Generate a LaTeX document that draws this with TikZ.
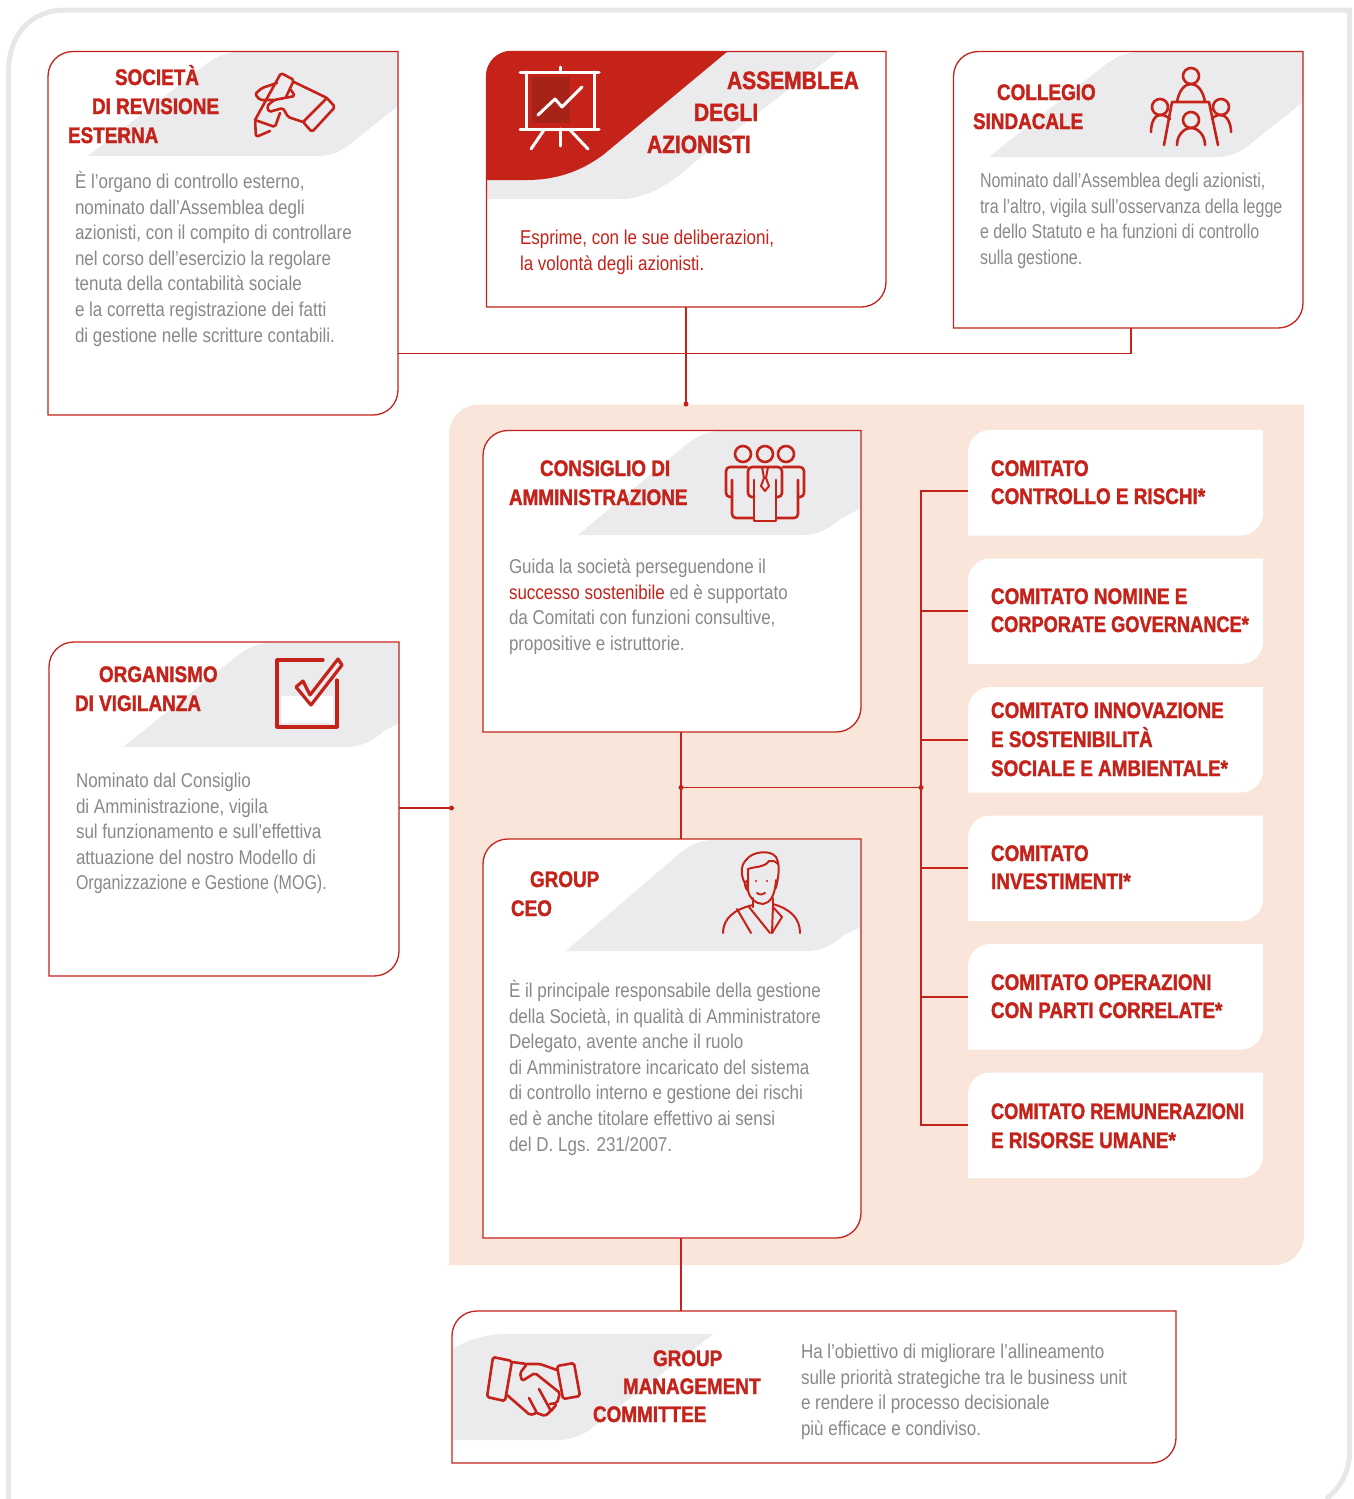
\documentclass[tikz,border=0pt]{standalone}
\usepackage{fontspec}
\setmainfont{Liberation Sans}
\newfontfamily\bodyf{Liberation Sans}[FakeStretch=0.85]
\newfontfamily\bodyn{Liberation Sans}[FakeStretch=0.8]
\newfontfamily\headf{Liberation Sans Bold}[FakeStretch=0.84,FakeBold=1.5]
\newfontfamily\headn{Liberation Sans Bold}[FakeStretch=0.81,FakeBold=1.5]
\usetikzlibrary{fit}
\definecolor{rd}{HTML}{C5221A}
\definecolor{gsw}{HTML}{EBEBED}
\definecolor{peach}{HTML}{F9E5DA}
\definecolor{frm}{HTML}{E6E7E9}
\definecolor{gtx}{HTML}{87898B}
\definecolor{drd}{HTML}{A82317}
\tikzset{
  box/.style={inner sep=0pt,outer sep=0pt},
  ttl/.style={anchor=base west,inner sep=0pt,outer sep=0pt,yshift=1pt,text=rd,font=\headf\fontsize{22.5}{29}\selectfont},
  ttln/.style={ttl,font=\headn\fontsize{22.5}{29}\selectfont},
  ttlb/.style={ttl,font=\headf\fontsize{25}{32}\selectfont},
  bodytxt/.style={anchor=north west,inner sep=0pt,outer sep=0pt,yshift=0.5pt,align=left,text=gtx,font=\bodyf\fontsize{20}{25.6}\selectfont},
  conn/.style={draw=rd,line width=1.2pt},
  dotn/.style={circle,fill=rd,inner sep=0pt,outer sep=0pt,minimum size=5pt},
  ico/.style={draw=rd,line width=2.6pt,line cap=round,line join=round},
  icow/.style={draw=white,line width=3pt,line cap=round,line join=round}
}
% name, x0, y0, x1, y1 : white card with rounded top-left and bottom-right corners
\newcommand\cardfill[5]{%
  \node[box,fit={(#2,#3)(#4,#5)}] (#1) {};
  \fill[white] (#2,#5) -- ({#2},{#3+25}) .. controls ({#2},{#3+11}) and ({#2+11},{#3}) .. ({#2+25},{#3})
     -- (#4,#3) -- ({#4},{#5-25}) .. controls ({#4},{#5-11}) and ({#4-11},{#5}) .. ({#4-25},{#5}) -- cycle;
}
\newcommand\cardline[4]{%
  \draw[rd,line width=1.3pt,line join=miter] (#1,#4) -- ({#1},{#2+25}) .. controls ({#1},{#2+11}) and ({#1+11},{#2}) .. ({#1+25},{#2})
     -- (#3,#2) -- ({#3},{#4-25}) .. controls ({#3},{#4-11}) and ({#3-11},{#4}) .. ({#3-25},{#4}) -- cycle;
}
% xl, yb, xt, yt, xr, yr, xb : grey swoosh
\newcommand\swoosh[7]{%
  \fill[gsw] (#1,#2) -- ({#3-35},{#4+13}) .. controls ({#3-22},{#4+3}) and ({#3-12},{#4}) .. (#3,#4)
     -- (#5,#4) -- (#5,#6) -- ({#7+37},{#2-16}) .. controls ({#7+27},{#2-7}) and ({#7+15},{#2}) .. (#7,#2) -- cycle;
}
\newcommand\comit[3]{%
  \node[box,fit={(968,#2)(1263,#3)}] (#1) {};
  \fill[white] (968,#3) -- ({968},{#2+22}) .. controls ({968},{#2+10}) and ({978},{#2}) .. ({990},{#2})
     -- (1263,#2) -- ({1263},{#3-22}) .. controls ({1263},{#3-10}) and ({1253},{#3}) .. ({1241},{#3}) -- cycle;
}
\begin{document}
\begin{tikzpicture}[x=1pt,y=-1pt]
\useasboundingbox (0,0) rectangle (1354,1499);
% outer frame
\draw[frm,line width=5pt] (8.5,1499) -- (8.5,72) .. controls (8.5,35) and (30,10) .. (66,10) -- (1349.5,10) -- (1349.5,1452) .. controls (1349.5,1472) and (1340,1488) .. (1326,1499);
% peach panel
\fill[peach] (449,1265) -- (449,435) .. controls (449,418) and (462,404.5) .. (479,404.5) -- (1304,404.5) -- (1304,1235) .. controls (1304,1252) and (1291,1265) .. (1274,1265) -- cycle;

% ---------- cards
\cardfill{soc}{48}{51.5}{398}{415}
\swoosh{88}{156}{240}{52}{398}{106}{318}
\cardline{48}{51.5}{398}{415}

\cardfill{asm}{486.5}{51.5}{886}{307}
\fill[gsw] (486.5,199) -- (486.5,170) -- (728,51.5) -- (838,51.5) -- (697,160) .. controls (675,180) and (650,199) .. (620,199) -- cycle;
\fill[rd] (486.5,180) -- (486.5,76) .. controls (486.5,62) and (497,51) .. (511.5,51) -- (728,51) -- (603,155) .. controls (580,172) and (555,180) .. (527,180) -- cycle;
\cardline{486.5}{51.5}{886}{307}

\cardfill{col}{953.5}{51.5}{1303}{328}
\swoosh{989}{157}{1140}{52}{1303}{102}{1217}
\cardline{953.5}{51.5}{1303}{328}

\cardfill{cda}{483}{430.5}{861}{732}
\swoosh{578}{535}{722}{431}{861}{508}{803}
\cardline{483}{430.5}{861}{732}

\cardfill{odv}{49}{642}{399}{976}
\swoosh{123}{747}{272}{643}{399}{723}{347}
\cardline{49}{642}{399}{976}

\cardfill{ceo}{483}{839}{861}{1238}
\swoosh{566}{951}{715}{840}{861}{927}{807}
\cardline{483}{839}{861}{1238}

\cardfill{gmc}{452}{1311}{1176}{1463}
\fill[gsw] (452.5,1350) .. controls (465,1340) and (485,1334) .. (510,1334) -- (713,1334) -- (597,1424) .. controls (585,1434) and (575,1440) .. (555,1440) -- (452.5,1440) -- cycle;
\cardline{452}{1311}{1176}{1463}

\comit{c1}{430}{535.5}
\comit{c2}{558.5}{664}
\comit{c3}{687}{792.5}
\comit{c4}{815.5}{921}
\comit{c5}{944}{1049.5}
\comit{c6}{1072.5}{1178}

% ---------- connectors
\node[dotn] (jtop) at (686,404) {};
\node[dotn] (jodv) at (451.5,808) {};
\node[dotn] (j1) at (681,787.5) {};
\node[dotn] (j2) at (921,787.5) {};
\coordinate (bend) at (1131,353.5);
\coordinate (t1) at (921,491);
\coordinate (t2) at (921,611);
\coordinate (t3) at (921,740);
\coordinate (t4) at (921,868);
\coordinate (t5) at (921,997);
\coordinate (t6) at (921,1125);
\draw[conn] (jtop.center |- asm.south) -- (jtop.center);
\draw[conn] (bend |- col.south) -- (bend) -- (bend -| soc.east);
\draw[conn] (jodv.center -| odv.east) -- (jodv.center);
\draw[conn] (j1.center |- cda.south) -- (j1.center |- ceo.north);
\draw[conn] (j1.center) -- (j2.center);
\draw[conn] (j1.center |- ceo.south) -- (j1.center |- gmc.north);
\draw[conn] (t1 -| c1.west) -- (t1) -- (t6) -- (t6 -| c6.west);
\draw[conn] (t2) -- (t2 -| c2.west);
\draw[conn] (t3) -- (t3 -| c3.west);
\draw[conn] (t4) -- (t4 -| c4.west);
\draw[conn] (t5) -- (t5 -| c5.west);

% ---------- titles
\node[ttl] (soct1) at (115,86) {SOCIETÀ};
\node[ttl] (soct2) at (92,115) {DI REVISIONE};
\node[ttl] (soct3) at (68,144) {ESTERNA};
\node[ttlb] (asmt1) at (727,90) {ASSEMBLEA};
\node[ttlb] (asmt2) at (694,122) {DEGLI};
\node[ttlb] (asmt3) at (647,154) {AZIONISTI};
\node[ttl] (colt1) at (997,101) {COLLEGIO};
\node[ttl] (colt2) at (973,130) {SINDACALE};
\node[ttl] (cdat1) at (540,477) {CONSIGLIO DI};
\node[ttl] (cdat2) at (509,506) {AMMINISTRAZIONE};
\node[ttl] (odvt1) at (99,683) {ORGANISMO};
\node[ttl] (odvt2) at (75,712) {DI VIGILANZA};
\node[ttl] (ceot1) at (530,888) {GROUP};
\node[ttl] (ceot2) at (511,917) {CEO};
\node[ttl] (gmct1) at (653,1367) {GROUP};
\node[ttl] (gmct2) at (623,1395) {MANAGEMENT};
\node[ttl] (gmct3) at (593,1423) {COMMITTEE};
\node[ttl] (c1a) at (991,477) {COMITATO};
\node[ttl] (c1b) at (991,505) {CONTROLLO E RISCHI*};
\node[ttl] (c2a) at (991,605) {COMITATO NOMINE E};
\node[ttln] (c2b) at (991,633) {CORPORATE GOVERNANCE*};
\node[ttl] (c3a) at (991,719) {COMITATO INNOVAZIONE};
\node[ttl] (c3b) at (991,748) {E SOSTENIBILITÀ};
\node[ttl] (c3c) at (991,777) {SOCIALE E AMBIENTALE*};
\node[ttl] (c4a) at (991,862) {COMITATO};
\node[ttl] (c4b) at (991,890) {INVESTIMENTI*};
\node[ttl] (c5a) at (991,991) {COMITATO OPERAZIONI};
\node[ttl] (c5b) at (991,1019) {CON PARTI CORRELATE*};
\node[ttln] (c6a) at (991,1120) {COMITATO REMUNERAZIONI};
\node[ttl] (c6b) at (991,1149) {E RISORSE UMANE*};

% ---------- body text (y = first baseline - 18)
\node[bodytxt] (socb) at (75,171) {\strut È l’organo di controllo esterno,\\nominato dall’Assemblea degli\\azionisti, con il compito di controllare\\nel corso dell’esercizio la regolare\\tenuta della contabilità sociale\\e la corretta registrazione dei fatti\\di gestione nelle scritture contabili.};
\node[bodytxt,text=rd] (asmb) at (520,227) {\strut Esprime, con le sue deliberazioni,\\la volontà degli azionisti.};
\node[bodytxt,font=\bodyn\fontsize{20}{25.6}\selectfont] (colb) at (980,170) {\strut Nominato dall’Assemblea degli azionisti,\\tra l’altro, vigila sull’osservanza della legge\\e dello Statuto e ha funzioni di controllo\\sulla gestione.};
\node[bodytxt] (cdab) at (509,556) {\strut Guida la società perseguendone il\\\textcolor{rd}{successo sostenibile} ed è supportato\\da Comitati con funzioni consultive,\\propositive e istruttorie.};
\node[bodytxt] (odvb) at (76,770) {\strut Nominato dal Consiglio\\di Amministrazione, vigila\\sul funzionamento e sull’effettiva\\attuazione del nostro Modello di\\{\bodyn Organizzazione e Gestione (MOG).}};
\node[bodytxt] (ceob) at (509,980) {\strut È il principale responsabile della gestione\\della Società, in qualità di Amministratore\\Delegato, avente anche il ruolo\\di Amministratore incaricato del sistema\\di controllo interno e gestione dei rischi\\ed è anche titolare effettivo ai sensi\\del D. Lgs. 231/2007.};
\node[bodytxt] (gmcb) at (801,1341) {\strut Ha l’obiettivo di migliorare l’allineamento\\sulle priorità strategiche tra le business unit\\e rendere il processo decisionale\\più efficace e condiviso.};

% ---------- icons
% pen and hand
\begin{scope}[rounded corners=1.8pt]
\path[ico] (255,120) -- (281,73) -- (294,80) -- (286,97);
\path[ico] (280,113) -- (275,127) -- (255,120) -- (256,137) -- (270,131);
\path[ico] (294,82) -- (327,98) -- (335,107) -- (312,132) -- (303,122) -- (327,98);
\path[ico] (303,122) -- (288,117) -- (283,108) -- (269,112) -- (267,106) -- (274,100) -- (295,96) -- (291,90);
\path[ico] (274,100) -- (260,100) -- (255,94) -- (262,88) -- (277,83);
\end{scope}
% presentation board
\fill[drd] (532,77) rectangle (570,123);
\path[icow] (520,72) -- (599,72);
\path[icow] (560,67) -- (560,72);
\path[icow] (526,72) -- (526,129);
\path[icow] (594,72) -- (594,129);
\path[icow] (520,129) -- (599,129);
\path[icow] (560,129) -- (560,146);
\path[icow] (544,130) -- (531,149);
\path[icow] (570,130) -- (588,149);
\path[icow] (538,115) -- (555,99) -- (562,107) -- (582,87);
% meeting table
\draw[ico] (1191,76) circle (8);
\draw[ico] (1160,107) circle (8);
\draw[ico] (1221,107) circle (8);
\draw[ico] (1191,120) circle (8);
\path[ico] (1177,102) .. controls (1179,90) and (1185,84) .. (1191,84) .. controls (1197,84) and (1203,90) .. (1205,102);
\path[ico] (1164,145) -- (1172,102) -- (1209,102) -- (1218,145);
\path[ico] (1151,132) .. controls (1151,122) and (1155,115) .. (1160,115) .. controls (1164,115) and (1167,116) .. (1170,119);
\path[ico] (1231,132) .. controls (1231,122) and (1226,115) .. (1221,115) .. controls (1217,115) and (1214,116) .. (1212,119);
\path[ico] (1177,145) .. controls (1177,135) and (1184,128) .. (1191,128) .. controls (1198,128) and (1205,135) .. (1205,145);
% three people
\draw[ico] (743,454) circle (8);
\draw[ico] (765,454) circle (8);
\draw[ico] (786,454) circle (8);
\begin{scope}[rounded corners=4pt]
\path[ico] (747,467) -- (726,467) -- (726,497) -- (732,497);
\path[ico] (732,480) -- (732,518) -- (753,518);
\path[ico] (783,467) -- (804,467) -- (804,497) -- (798,497);
\path[ico] (798,480) -- (798,518) -- (777,518);
\end{scope}
\path[ico,rounded corners=4pt] (754,497) -- (748,497) -- (748,467) -- (782,467) -- (782,497) -- (776,497);
\path[ico] (754,480) -- (754,521) -- (776,521) -- (776,480);
\path[ico,line width=2pt] (762,467) -- (768,467) -- (766,478) -- (769,486) -- (765,491) -- (761,486) -- (764,478) -- cycle;
% check mark
\path[ico,line width=3.2pt] (323,660) -- (277,660) -- (277,727) -- (337,727) -- (337,680);
\fill[white] (281,696) rectangle (333,723);
\path[ico,line width=3.2pt] (296,687) -- (311,705) -- (342,665) -- (338,659) -- (310,695) -- (303,681) -- cycle;
% man
\begin{scope}[line width=2pt]
\path[ico,line width=2pt] (747,887) .. controls (741,878) and (739,866) .. (747,859) .. controls (752,852) and (770,849) .. (776,857) .. controls (781,866) and (778,878) .. (776,888);
\path[ico,line width=2pt] (748,869) .. controls (756,866) and (764,868) .. (769,861) .. controls (772,860) and (775,861) .. (778,864);
\path[ico,line width=2pt] (748,869) -- (748,890) .. controls (749,898) and (756,904) .. (763,904) .. controls (770,903) and (775,896) .. (776,880);
\path[ico,line width=2pt] (748,880) .. controls (744,882) and (744,887) .. (748,891);
\path[ico,line width=2pt] (757,893) .. controls (760,895) and (763,895) .. (765,893);
\path[ico,line width=2pt] (753,898) -- (753,907);
\path[ico,line width=2pt] (773,898) -- (773,906);
\path[ico,line width=2pt] (723,933) .. controls (723,918) and (735,909) .. (753,905);
\path[ico,line width=2pt] (800,933) .. controls (800,918) and (790,909) .. (773,904);
\path[ico,line width=2pt] (737,909) -- (751,933);
\path[ico,line width=2pt] (749,907) -- (770,933);
\path[ico,line width=2pt] (773,905) -- (772,933);
\path[ico,line width=2pt] (773,907) -- (782,917) -- (772,933);
\end{scope}
\fill[rd] (756,881) circle (1.2);
\fill[rd] (767,881) circle (1.2);
% handshake
\begin{scope}[rounded corners=1.8pt]
\path[ico] (493,1357) -- (512,1361) -- (505,1401) -- (487,1397) -- cycle;
\path[ico] (557,1366) -- (574,1363) -- (580,1396) -- (563,1399) -- cycle;
\path[ico] (512,1362) -- (527,1364) -- (520,1373) -- (522,1381) -- (535,1373) -- (560,1393) -- (557,1403) -- (550,1404);
\path[ico] (527,1364) -- (540,1364) -- (557,1370);
\path[ico] (507,1395) -- (530,1415) -- (537,1413) -- (529,1398);
\path[ico] (537,1413) -- (545,1416) -- (551,1411) -- (539,1389);
\path[ico] (551,1411) -- (556,1405);
\end{scope}
\end{tikzpicture}
\end{document}
